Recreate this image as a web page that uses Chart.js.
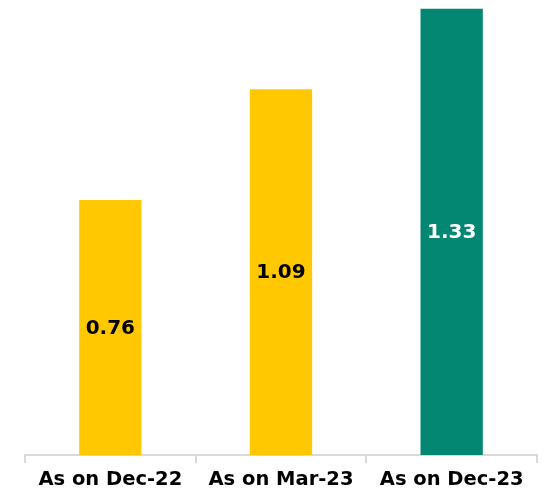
<!DOCTYPE html>
<html>
<head>
<meta charset="utf-8">
<script src="https://cdn.jsdelivr.net/npm/chart.js@4.4.1/dist/chart.umd.min.js"></script>
<style>
  html, body { margin: 0; padding: 0; background: #fff; }
  #wrap { width: 547px; height: 496px; }
</style>
</head>
<body>
<div id="wrap"><canvas id="barCanvas"></canvas></div>
<script>
// Data
const categories = ["As on Dec-22", "As on Mar-23", "As on Dec-23"];
const values = [0.76, 1.09, 1.33];
const barColors = ["#FFC800", "#FFC800", "#038672"];
const labelColors = ["#000000", "#000000", "#FFFFFF"];

// Value labels drawn in the middle of each bar
const barLabels = {
    id: "barLabels",
    afterDatasetsDraw(chart) {
        const ctx = chart.ctx;
        const meta = chart.getDatasetMeta(0);
        ctx.save();
        ctx.font = "bold 20px 'DejaVu Sans'";
        ctx.textAlign = "center";
        ctx.textBaseline = "middle";
        meta.data.forEach((bar, i) => {
            const mid = (bar.y + bar.base) / 2;
            ctx.fillStyle = labelColors[i];
            ctx.fillText(values[i].toFixed(2), bar.x, mid + 1);
        });
        ctx.restore();
    }
};

const barCtx = document.getElementById("barCanvas").getContext("2d");
const barChart = new Chart(barCtx, {
    type: "bar",
    data: {
        labels: categories,
        datasets: [{
            data: values,
            backgroundColor: barColors,
            barPercentage: 0.365,
            categoryPercentage: 1.0
        }]
    },
    options: {
        responsive: true,
        maintainAspectRatio: false,
        animation: false,
        layout: {
            padding: { top: 2, left: 25, right: 10, bottom: 0 }
        },
        plugins: {
            legend: { display: false },
            tooltip: { enabled: false }
        },
        scales: {
            x: {
                afterFit: (scale) => { scale.height = 41; },
                grid: {
                    display: true,
                    drawOnChartArea: false,
                    drawTicks: true,
                    tickLength: 8,
                    color: "#D9D9D9",
                    lineWidth: 2
                },
                border: { display: true, color: "#D9D9D9", width: 2 },
                ticks: {
                    color: "#000000",
                    padding: 5,
                    font: { family: "'DejaVu Sans'", size: 19.5, weight: "bold" }
                }
            },
            y: {
                display: false,
                min: 0,
                max: 1.35
            }
        }
    },
    plugins: [barLabels]
});
</script>
</body>
</html>
